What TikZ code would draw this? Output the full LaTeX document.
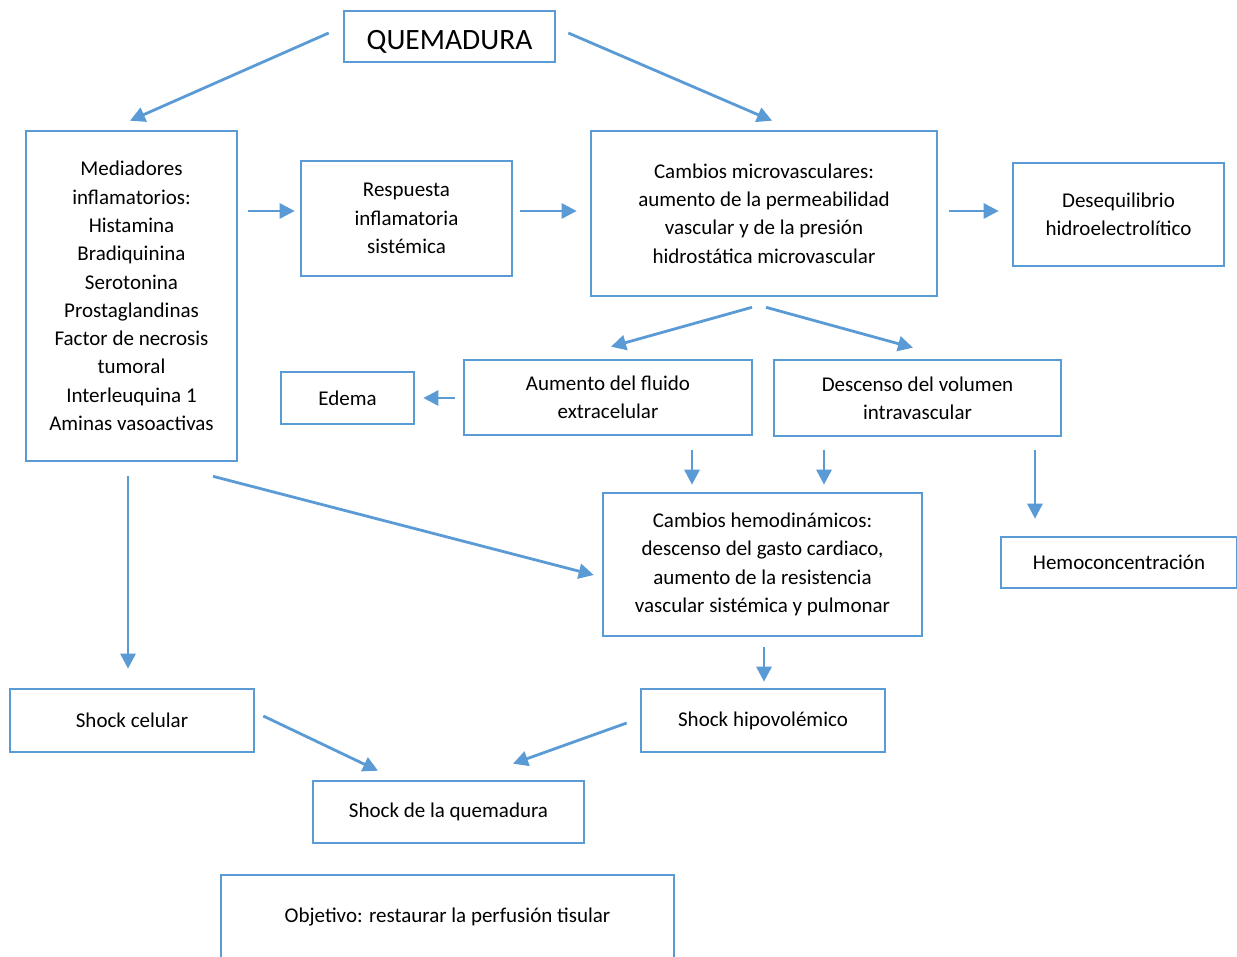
\documentclass[tikz,border=0pt]{standalone}
\usepackage{fontspec}
\setmainfont{Carlito}
\usetikzlibrary{arrows.meta}
\definecolor{boxblue}{RGB}{91,155,213}
\begin{document}
\begin{tikzpicture}[x=1pt,y=-1pt,
  box/.style={draw=boxblue,line width=2.6pt,inner sep=0pt,align=center,
    font=\fontsize{21}{28.3}\selectfont,text=black},
  arr/.style={draw=boxblue,line width=2.8pt,-{Triangle[length=15pt,width=15pt]}}]
\useasboundingbox (0,0) rectangle (1237,957);
\fill[white] (0,0) rectangle (1237,957);

% boxes
\node[box,minimum width=211pt,minimum height=51pt,font=\fontsize{29.5}{34}\selectfont,
  text height=32pt,text depth=5pt] (q) at (449.5,36.5) {QUEMADURA};
\node[box,minimum width=211pt,minimum height=330pt] (med) at (131.5,296) {Mediadores\\inflamatorios:\\Histamina\\Bradiquinina\\Serotonina\\Prostaglandinas\\Factor de necrosis\\tumoral\\Interleuquina 1\\Aminas vasoactivas};
\node[box,minimum width=211pt,minimum height=115pt] (resp) at (406.5,218.5) {Respuesta\\inflamatoria\\sistémica};
\node[box,minimum width=346pt,minimum height=165pt] (micro) at (764,213.5) {Cambios microvasculares:\\aumento de la permeabilidad\\vascular y de la presión\\hidrostática microvascular};
\node[box,minimum width=211pt,minimum height=103pt] (deseq) at (1118.5,214.5) {Desequilibrio\\hidroelectrolítico};
\node[box,minimum width=133pt,minimum height=52pt] (edema) at (347.5,398) {Edema};
\node[box,minimum width=288pt,minimum height=75pt] (aum) at (608,397.5) {Aumento del fluido\\extracelular};
\node[box,minimum width=287pt,minimum height=76pt] (desc) at (917.5,398) {Descenso del volumen\\intravascular};
\node[box,minimum width=319pt,minimum height=143pt] (hemo) at (762.5,564.5) {Cambios hemodinámicos:\\descenso del gasto cardiaco,\\aumento de la resistencia\\vascular sistémica y pulmonar};
\node[box,minimum width=236pt,minimum height=51pt] (hconc) at (1119,562.5) {Hemoconcentración};
\node[box,minimum width=244pt,minimum height=63pt] (scel) at (132,720.5) {Shock celular};
\node[box,minimum width=244pt,minimum height=63pt] (shipo) at (763,720.5) {Shock hipovolémico};
\node[box,minimum width=271pt,minimum height=62pt] (squem) at (448.5,812) {Shock de la quemadura};
\node[box,minimum width=453pt,minimum height=84pt] (obj) at (447.5,917) {Objetivo: restaurar la perfusión tisular};

% connectors
\draw[arr] ([shift={(-14,-3.5)}]q.west) -- ([shift={(-1.5,-9)}]med.north);
\draw[arr] ([shift={(12,-3.5)}]q.east) -- ([shift={(8,-9)}]micro.north);
\draw[arr] ([shift={(10,-85)}]med.east) -- ([shift={(-5,-7.5)}]resp.west);
\draw[arr] ([shift={(7,-7.5)}]resp.east) -- ([shift={(-13,-2.5)}]micro.west);
\draw[arr] ([shift={(11,-2.5)}]micro.east) -- ([shift={(-13,-3.5)}]deseq.west);
\draw[arr] ([shift={(-12,10)}]micro.south) -- ([shift={(3,-12)}]aum.north);
\draw[arr] ([shift={(2,10)}]micro.south) -- ([shift={(-4.5,-11)}]desc.north);
\draw[arr] ([shift={(-8,0.5)}]aum.west) -- ([shift={(8,0)}]edema.east);
\draw[arr] ([shift={(84,14)}]aum.south) -- ([shift={(-70.5,-7)}]hemo.north);
\draw[arr] ([shift={(-93.5,13)}]desc.south) -- ([shift={(61.5,-7)}]hemo.north);
\draw[arr] ([shift={(117.5,13)}]desc.south) -- ([shift={(-84,-17)}]hconc.north);
\draw[arr] ([shift={(-3.5,14)}]med.south) -- ([shift={(-4,-19)}]scel.north);
\draw[arr] ([shift={(81.5,14)}]med.south) -- ([shift={(-8,10.5)}]hemo.west);
\draw[arr] ([shift={(1.5,10)}]hemo.south) -- ([shift={(1,-6)}]shipo.north);
\draw[arr] ([shift={(8,-4.5)}]scel.east) -- ([shift={(-70.5,-9)}]squem.north);
\draw[arr] ([shift={(-13,2.5)}]shipo.west) -- ([shift={(64.5,-16)}]squem.north);
\end{tikzpicture}
\end{document}
